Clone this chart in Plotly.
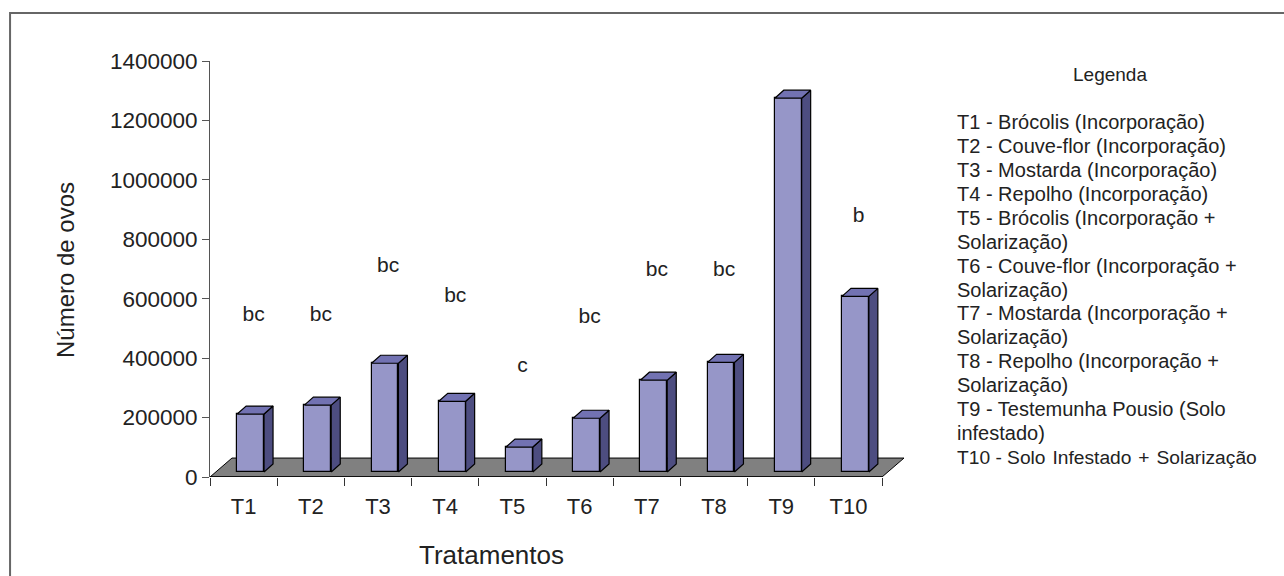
import plotly.graph_objects as go

# ---------------- data ----------------
categories = ["T1", "T2", "T3", "T4", "T5", "T6", "T7", "T8", "T9", "T10"]
eggs = [195000, 225000, 366000, 238000, 84000, 181000, 309000, 369000, 1258000, 591000]
letters = ["bc", "bc", "bc", "bc", "c", "bc", "bc", "bc", "a", "b"]
letter_heights = [541800, 541800, 706700, 605800, 370200, 535100, 693300, 693300, 1447000, 875000]
y_ticks = [0, 200000, 400000, 600000, 800000, 1000000, 1200000, 1400000]
legend_title = "Legenda"
legend_lines = [
    "T1 - Brócolis (Incorporação)",
    "T2 - Couve-flor (Incorporação)",
    "T3 - Mostarda (Incorporação)",
    "T4 - Repolho (Incorporação)",
    "T5 - Brócolis (Incorporação +",
    "Solarização)",
    "T6 - Couve-flor (Incorporação +",
    "Solarização)",
    "T7 - Mostarda (Incorporação +",
    "Solarização)",
    "T8 - Repolho (Incorporação +",
    "Solarização)",
    "T9 - Testemunha Pousio (Solo",
    "infestado)",
    "T10 - Solo\u200a Infestado\u200a +\u200a Solarização",
]

# ---------------- geometry / style ----------------
FONT = "Liberation Sans, Arial, sans-serif"
W, H = 1284, 576
ML, MT, MB = 210, 61, 99
X0, X1 = 0.5, 10.827
Y0, Y1 = 0, 1400000
plot_w = 694.2
MR = W - ML - plot_w
plot_h = H - MT - MB

bar_w = 0.40
bar_shift = 0.104
bar_base = 16800
dep_x = 0.134
dep_y = 26900
floor_dx = 0.327
floor_dy = 63760

FRONT = "#9696C8"
SIDE = "#4D4D80"
TOP = "#7272B2"

idx = list(range(1, len(categories) + 1))

fig = go.Figure()

# front faces
fig.add_trace(go.Bar(
    x=idx, y=eggs, base=bar_base, width=bar_w, offset=-bar_w / 2 + bar_shift,
    marker=dict(color=FRONT, line=dict(color="black", width=1.2)),
    hoverinfo="skip", showlegend=False,
))

# side and top faces
sx, sy, tx, ty = [], [], [], []
for i, v in zip(idx, eggs):
    xl = i + bar_shift - bar_w / 2
    xr = xl + bar_w
    b = bar_base
    t = bar_base + v
    sx += [xr, xr + dep_x, xr + dep_x, xr, xr, None]
    sy += [b, b + dep_y, t + dep_y, t, b, None]
    tx += [xl, xr, xr + dep_x, xl + dep_x, xl, None]
    ty += [t, t, t + dep_y, t + dep_y, t, None]

fig.add_trace(go.Scatter(x=sx, y=sy, mode="lines", fill="toself", fillcolor=SIDE,
                         line=dict(color="black", width=1.2), hoverinfo="skip", showlegend=False))
fig.add_trace(go.Scatter(x=tx, y=ty, mode="lines", fill="toself", fillcolor=TOP,
                         line=dict(color="black", width=1.2), hoverinfo="skip", showlegend=False))

# letters
fig.add_trace(go.Scatter(
    x=[i + 0.15 for i in idx], y=letter_heights, mode="text", text=letters,
    textfont=dict(family=FONT, size=21, color="#222"), textposition="middle center",
    cliponaxis=False, hoverinfo="skip", showlegend=False,
))

# floor (below traces)
shapes = [
    dict(type="path", xref="x", yref="y", layer="below",
         path=f"M {X0},{Y0} L {X0 + 10},{Y0} L {X0 + 10 + floor_dx},{floor_dy} L {X0 + floor_dx},{floor_dy} Z",
         fillcolor="#808080", line=dict(color="black", width=1)),
    dict(type="line", xref="x", yref="y", x0=X0, x1=X0 + 10, y0=0, y1=0,
         line=dict(color="black", width=1.5)),
]

def px_to_paper(px, py):
    return (px - ML) / plot_w, (H - MB - py) / plot_h

# outer frame
fx0, fy1 = px_to_paper(10, 13)
fx1, fy0 = px_to_paper(1300, 600)
shapes.append(dict(type="rect", xref="paper", yref="paper", x0=fx0, x1=fx1, y0=fy0, y1=fy1,
                   line=dict(color="#666666", width=2), fillcolor="rgba(0,0,0,0)"))

annotations = []
ax, ay = px_to_paper(1110, 74)
annotations.append(dict(text=legend_title, x=ax, y=ay, xref="paper", yref="paper",
                        xanchor="center", yanchor="middle", showarrow=False,
                        font=dict(family=FONT, size=19, color="#222")))
for k, line in enumerate(legend_lines):
    lx, ly = px_to_paper(955, 122 + 23.93 * k)
    size = 19.2 if k == len(legend_lines) - 1 else 20
    annotations.append(dict(text=line, x=lx, y=ly, xref="paper", yref="paper",
                            xanchor="left", yanchor="middle", showarrow=False,
                            font=dict(family=FONT, size=size, color="#222")))

tx_, ty_ = px_to_paper(65, 270)
annotations.append(dict(text="Número de ovos", x=tx_, y=ty_, xref="paper", yref="paper",
                        textangle=-90, xanchor="center", yanchor="middle", showarrow=False,
                        font=dict(family=FONT, size=24, color="#222")))
bx, by = px_to_paper(492, 555)
annotations.append(dict(text="Tratamentos", x=bx, y=by, xref="paper", yref="paper",
                        xanchor="center", yanchor="middle", showarrow=False,
                        font=dict(family=FONT, size=26, color="#222")))

fig.update_layout(
    width=W, height=H, autosize=False,
    margin=dict(l=ML, r=MR, t=MT, b=MB, pad=0),
    paper_bgcolor="white", plot_bgcolor="white",
    shapes=shapes, annotations=annotations,
    xaxis=dict(
        range=[X0, X1], showgrid=False, zeroline=False, showline=False,
        tickmode="array", tickvals=idx, ticktext=categories, ticks="",
        tickfont=dict(family=FONT, size=22, color="#222"),
        minor=dict(tickmode="array", tickvals=[i - 0.5 for i in idx] + [idx[-1] + 0.5],
                   ticks="outside", ticklen=8, tickcolor="#333", tickwidth=1),
        ticklabelstandoff=14,
    ),
    yaxis=dict(
        range=[Y0, Y1], showgrid=False, zeroline=False, showline=True,
        linecolor="#555", linewidth=1, ticks="outside", ticklen=7, tickcolor="#555",
        tickmode="array", tickvals=y_ticks, tickformat="d",
        tickfont=dict(family=FONT, size=22.5, color="#222"),
    ),
    bargap=0,
)

fig.write_html(
    "out.html",
    config={"displayModeBar": False},
    post_script="document.body.style.margin='0';document.body.style.overflow='hidden';",
)
